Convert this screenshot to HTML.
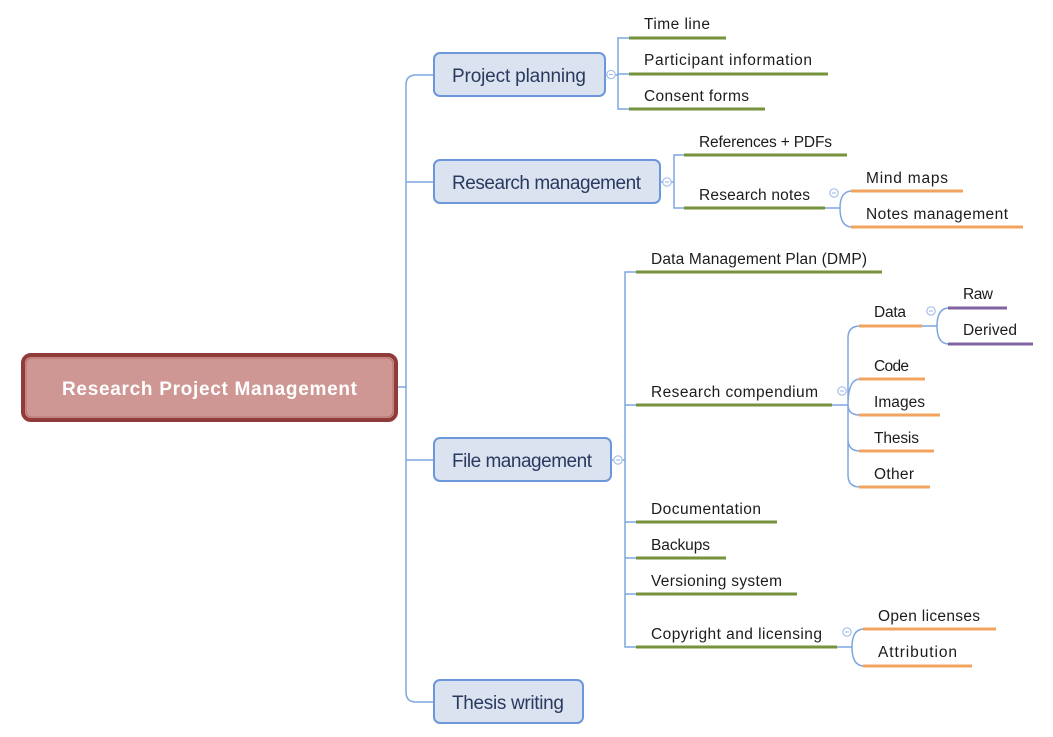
<!DOCTYPE html>
<html><head><meta charset="utf-8"><style>
html,body{margin:0;padding:0;background:#fff;}
svg{display:block;}
text{font-family:"Liberation Sans","DejaVu Sans",sans-serif;}
.t{font-size:15.5px;fill:#1c1c1c;}
.l1{font-size:19px;fill:#2a3a5e;}
.c{fill:none;stroke:#7ea6e0;stroke-width:1.5;}
.g{stroke:#76923c;stroke-width:3;}
.o{stroke:#f2a35e;stroke-width:3;}
.p{stroke:#8064a2;stroke-width:3;}
.box{fill:#dbe3f1;stroke:#6d97db;stroke-width:2;}
.ci{fill:#fff;stroke:#a7c0ea;stroke-width:1.2;}
.cm{stroke:#a7c0ea;stroke-width:1.2;}
</style></head><body>
<svg width="1053" height="737" viewBox="0 0 1053 737" xmlns="http://www.w3.org/2000/svg">
<!-- trunk -->
<path class="c" d="M398,387 H406"/>
<path class="c" d="M433,75 H416 Q406,75 406,85 V692 Q406,702 416,702 H433"/>
<path class="c" d="M406,182 H433 M406,460 H433"/>

<!-- root -->
<rect x="23" y="355" width="373" height="65" rx="8" fill="#cf9793" stroke="#8e3b3a" stroke-width="4"/>
<rect x="26" y="358" width="367" height="59" rx="6" fill="none" stroke="#b86f6c" stroke-width="1"/>
<text x="62" y="395" font-size="19" font-weight="bold" fill="#fff" textLength="295" lengthAdjust="spacing">Research Project Management</text>

<!-- level1 boxes -->
<rect class="box" x="434" y="53" width="171" height="43" rx="6"/>
<text class="l1" x="452" y="82" textLength="134" lengthAdjust="spacing">Project planning</text>
<rect class="box" x="434" y="160" width="226" height="43" rx="6"/>
<text class="l1" x="452" y="189" textLength="189" lengthAdjust="spacing">Research management</text>
<rect class="box" x="434" y="438" width="177" height="43" rx="6"/>
<text class="l1" x="452" y="467" textLength="140" lengthAdjust="spacing">File management</text>
<rect class="box" x="434" y="680" width="149" height="43" rx="6"/>
<text class="l1" x="452" y="709" textLength="112" lengthAdjust="spacing">Thesis writing</text>

<!-- Project planning children -->
<path class="c" d="M605,75 H618 M629,38 H618 V109 H629 M618,74 H629"/>
<line class="g" x1="629" y1="38" x2="726" y2="38"/>
<line class="g" x1="629" y1="74" x2="828" y2="74"/>
<line class="g" x1="629" y1="109" x2="765" y2="109"/>
<text class="t" x="644" y="29" textLength="66" lengthAdjust="spacing">Time line</text>
<text class="t" x="644" y="65" textLength="168" lengthAdjust="spacing">Participant information</text>
<text class="t" x="644" y="101" textLength="105" lengthAdjust="spacing">Consent forms</text>
<circle class="ci" cx="611" cy="74.5" r="4.2"/><line class="cm" x1="609" y1="74.5" x2="613" y2="74.5"/>

<!-- Research management children -->
<path class="c" d="M660,182 H674 M684,155 H674 V208 H684"/>
<line class="g" x1="684" y1="155" x2="847" y2="155"/>
<line class="g" x1="684" y1="208" x2="825" y2="208"/>
<text class="t" x="699" y="147" textLength="133" lengthAdjust="spacing">References + PDFs</text>
<text class="t" x="699" y="200" textLength="111" lengthAdjust="spacing">Research notes</text>
<circle class="ci" cx="667" cy="182" r="4.2"/><line class="cm" x1="665" y1="182" x2="669" y2="182"/>

<!-- Research notes children -->
<path class="c" d="M825,208 H840 M840,208 Q840,191 852,191 M840,208 Q840,227 852,227"/>
<line class="o" x1="851" y1="191" x2="963" y2="191"/>
<line class="o" x1="851" y1="227" x2="1023" y2="227"/>
<text class="t" x="866" y="183" textLength="82" lengthAdjust="spacing">Mind maps</text>
<text class="t" x="866" y="219" textLength="142" lengthAdjust="spacing">Notes management</text>
<circle class="ci" cx="834" cy="193" r="4.2"/><line class="cm" x1="832" y1="193" x2="836" y2="193"/>

<!-- File management children -->
<path class="c" d="M611,460 H625 M636,272 H625 V647 H636 M625,405 H636 M625,522 H636 M625,558 H636 M625,594 H636"/>
<line class="g" x1="636" y1="272" x2="882" y2="272"/>
<line class="g" x1="636" y1="405" x2="832" y2="405"/>
<line class="g" x1="636" y1="522" x2="777" y2="522"/>
<line class="g" x1="636" y1="558" x2="726" y2="558"/>
<line class="g" x1="636" y1="594" x2="797" y2="594"/>
<line class="g" x1="636" y1="647" x2="837" y2="647"/>
<text class="t" x="651" y="264" textLength="216" lengthAdjust="spacing">Data Management Plan (DMP)</text>
<text class="t" x="651" y="397" textLength="167" lengthAdjust="spacing">Research compendium</text>
<text class="t" x="651" y="514" textLength="110" lengthAdjust="spacing">Documentation</text>
<text class="t" x="651" y="550" textLength="59" lengthAdjust="spacing">Backups</text>
<text class="t" x="651" y="586" textLength="131" lengthAdjust="spacing">Versioning system</text>
<text class="t" x="651" y="639" textLength="171" lengthAdjust="spacing">Copyright and licensing</text>
<circle class="ci" cx="618" cy="460" r="4.2"/><line class="cm" x1="616" y1="460" x2="620" y2="460"/>

<!-- Research compendium children -->
<path class="c" d="M832,405 H848
 M848,405 V338 Q848,326 860,326
 M848,405 Q848,379 860,379
 M848,405 Q848,415 860,415
 M848,405 V439 Q848,451 860,451
 M848,405 V475 Q848,487 860,487"/>
<line class="o" x1="859" y1="326" x2="922" y2="326"/>
<line class="o" x1="859" y1="379" x2="925" y2="379"/>
<line class="o" x1="859" y1="415" x2="940" y2="415"/>
<line class="o" x1="859" y1="451" x2="934" y2="451"/>
<line class="o" x1="859" y1="487" x2="930" y2="487"/>
<text class="t" x="874" y="317" textLength="32" lengthAdjust="spacing">Data</text>
<text class="t" x="874" y="371" textLength="35" lengthAdjust="spacing">Code</text>
<text class="t" x="874" y="407" textLength="51" lengthAdjust="spacing">Images</text>
<text class="t" x="874" y="443" textLength="45" lengthAdjust="spacing">Thesis</text>
<text class="t" x="874" y="479" textLength="40" lengthAdjust="spacing">Other</text>
<circle class="ci" cx="842" cy="391" r="4.2"/><line class="cm" x1="840" y1="391" x2="844" y2="391"/>

<!-- Data children -->
<path class="c" d="M922,326 H937 M937,326 Q937,308 949,308 M937,326 Q937,344 949,344"/>
<line class="p" x1="948" y1="308" x2="1007" y2="308"/>
<line class="p" x1="948" y1="344" x2="1033" y2="344"/>
<text class="t" x="963" y="299" textLength="30" lengthAdjust="spacing">Raw</text>
<text class="t" x="963" y="335" textLength="54" lengthAdjust="spacing">Derived</text>
<circle class="ci" cx="931" cy="311" r="4.2"/><line class="cm" x1="929" y1="311" x2="933" y2="311"/>

<!-- Copyright children -->
<path class="c" d="M837,647 H852 M852,647 Q852,629 864,629 M852,647 Q852,666 864,666"/>
<line class="o" x1="863" y1="629" x2="996" y2="629"/>
<line class="o" x1="863" y1="666" x2="972" y2="666"/>
<text class="t" x="878" y="621" textLength="102" lengthAdjust="spacing">Open licenses</text>
<text class="t" x="878" y="657" textLength="79" lengthAdjust="spacing">Attribution</text>
<circle class="ci" cx="847" cy="632" r="4.2"/><line class="cm" x1="845" y1="632" x2="849" y2="632"/>
</svg>
</body></html>
